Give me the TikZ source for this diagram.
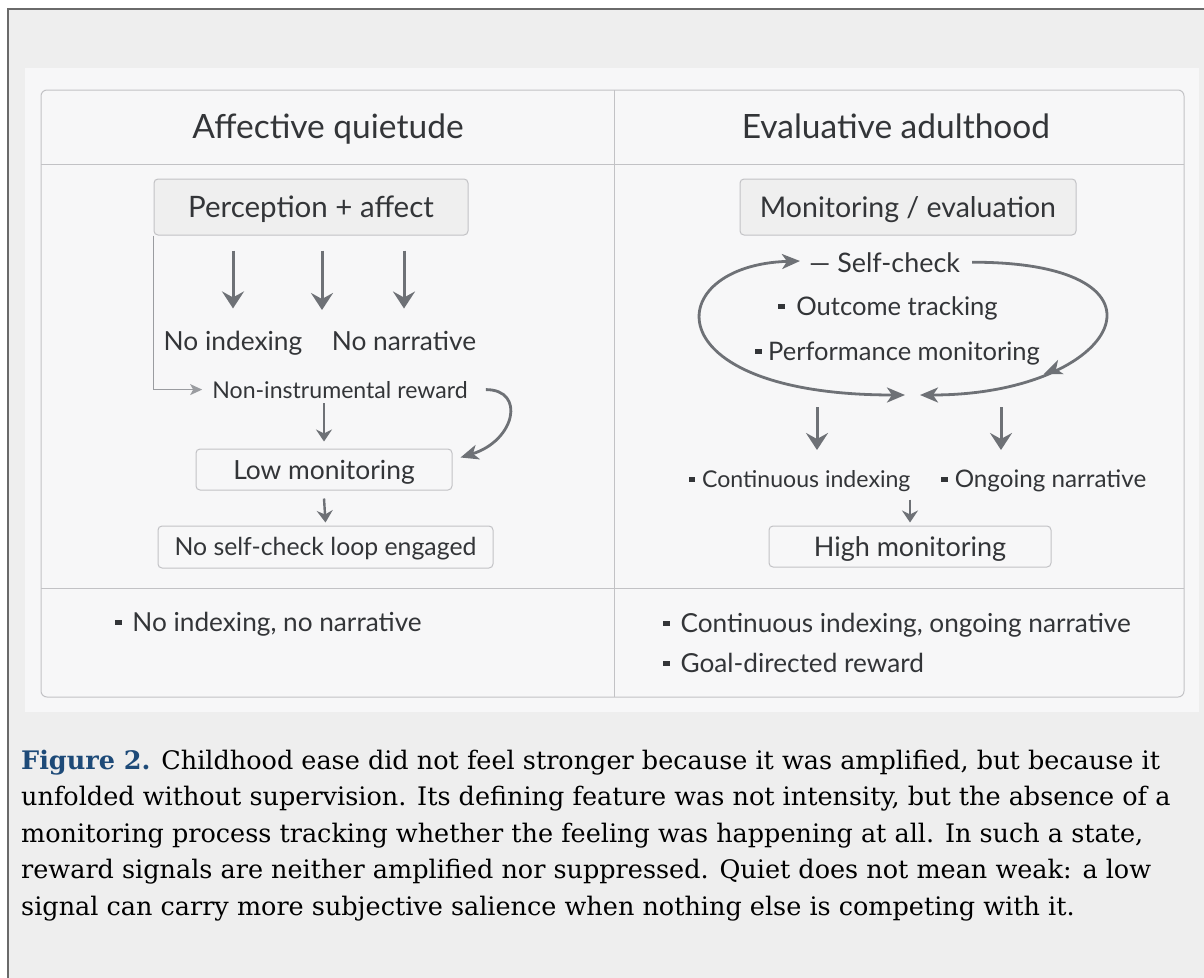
\documentclass[tikz,border=0pt]{standalone}
\usepackage{fontspec}
\setmainfont{DejaVu Serif}
\newfontfamily\diagfont{Lato}
\usetikzlibrary{arrows.meta,calc,decorations.markings}

\definecolor{framegray}{HTML}{6A6A6A}
\definecolor{outerbg}{HTML}{EEEEEE}
\definecolor{panelbg}{HTML}{F7F7F8}
\definecolor{rulegray}{HTML}{C2C2C5}
\definecolor{boxfill}{HTML}{EFEFEF}
\definecolor{inkgray}{HTML}{333538}
\definecolor{arrowgray}{HTML}{6E7176}
\definecolor{linkgray}{HTML}{9A9CA0}
\definecolor{figblue}{HTML}{1D4A78}

\newcommand{\fs}[1]{\fontsize{#1}{#1}\selectfont}
\newcommand{\sqbul}{\textcolor{inkgray}{\raisebox{0.22em}{\rule{0.26em}{0.2em}}}}

\tikzset{
  txt/.style={font=\diagfont, text=inkgray, inner sep=0pt, anchor=base},
  boxbase/.style={draw=rulegray, line width=1pt, rounded corners=4pt, inner sep=0pt,
    text=inkgray, text depth=0pt},
  headbox/.style={boxbase, fill=boxfill},
  plainbox/.style={boxbase, fill=panelbg},
  bigarrow/.style={draw=arrowgray, line width=3pt, -{Stealth[length=17pt,width=22pt,inset=6pt]}},
  midarrow/.style={draw=arrowgray, line width=2.4pt, -{Stealth[length=12pt,width=16pt,inset=4pt]}},
  thinarrow/.style={draw=linkgray, line width=1.2pt, -{Stealth[length=12pt,width=11pt,inset=3pt]}},
  loopline/.style={draw=arrowgray, line width=2.8pt},
  looptip/.style={-{Stealth[length=18pt,width=15pt,inset=5pt]}},
  captxt/.style={inner sep=0pt, anchor=base west, font=\fs{25.5}}
}

\begin{document}
\begin{tikzpicture}[x=1pt,y=-1pt]
\useasboundingbox (0,0) rectangle (1204,977);
\clip (0,0) rectangle (1204,977);

% page frame and panel
\fill[white] (0,0) rectangle (1204,977);
\draw[framegray, line width=2.5pt, fill=outerbg] (8,9) rectangle (1300,1100);
\fill[panelbg] (25,68) rectangle (1199,712);

% two-column table
\draw[rulegray, line width=1pt, rounded corners=6pt] (41,90) rectangle (1184,697);
\draw[rulegray, line width=1pt] (41,164) -- (1184,164);
\draw[rulegray, line width=1pt] (41,588) -- (1184,588);
\draw[rulegray, line width=1pt] (614,90) -- (614,697);

% column headings
\node[txt, font=\diagfont\fs{33.5}] (headL) at (328,138) {Affective quietude};
\node[txt, font=\diagfont\fs{33.5}] (headR) at (896,138) {Evaluative adulthood};

% ---------- left column ----------
\node[headbox, font=\diagfont\fs{29.5}, text height=21.2pt, minimum width=314pt, minimum height=56pt] (perc) at (311,207) {Perception + affect};
\node[txt, font=\diagfont\fs{26.3}] (noidx) at (233,350) {No indexing};
\node[txt, font=\diagfont\fs{26.3}] (nonarr) at (404,350) {No narrative};
\coordinate (midfoot) at (322,310);

\draw[bigarrow] ($(perc.south -| noidx)+(0,15)$) -- ($(noidx.north)+(0,-22)$);
\draw[bigarrow] ($(perc.south -| midfoot)+(0,15)$) -- (midfoot);
\draw[bigarrow] ($(perc.south -| nonarr)+(0,15)$) -- ($(nonarr.north)+(0,-22)$);

\node[txt, font=\diagfont\fs{23.1}] (nonin) at (340,398) {Non-instrumental reward};
\draw[thinarrow] (perc.south west) |- ([xshift=-10pt]nonin.west);

\node[plainbox, font=\diagfont\fs{26.4}, text height=19pt, minimum width=256pt, minimum height=41pt] (low) at (324,469.5) {Low monitoring};
\node[plainbox, font=\diagfont\fs{24.8}, text height=17.9pt, minimum width=335pt, minimum height=42pt] (noself) at (325.5,547) {No self-check loop engaged};

\draw[midarrow] ($(low.north |- nonin.south)+(0,5)$) -- ([yshift=7pt]low.north);
\draw[loopline, looptip] ([xshift=18pt]nonin.east) .. controls +(40,0) and +(55,-17) .. ([xshift=8pt,yshift=12pt]low.east);
\draw[midarrow] ([yshift=-8pt]low.south) -- ([yshift=3pt]noself.north);

\node[txt, anchor=base west, font=\diagfont\fs{26.2}] (sumL) at (115,631) {\sqbul\hspace{0.4em}No indexing, no narrative};

% ---------- right column ----------
\node[headbox, font=\diagfont\fs{28.5}, text height=20.5pt, minimum width=336pt, minimum height=56pt] (mon) at (908,207) {Monitoring / evaluation};

\node[txt, anchor=base west, font=\diagfont\fs{26.9}] (self) at (809,272) {—\hspace{0.25em}Self-check};
\node[txt, anchor=base west, font=\diagfont\fs{25.6}] (outc) at (778,315) {\sqbul\hspace{0.45em}Outcome tracking};
\node[txt, anchor=base west, font=\diagfont\fs{25.5}] (perf) at (755,360) {\sqbul\hspace{0.25em}Performance monitoring};

\coordinate (loopL) at (800,261);
\coordinate (loopB) at (905,395);
\coordinate (loopR) at (920,395);
\draw[loopline, {Stealth[length=18pt,width=15pt,inset=5pt]}-{Stealth[length=18pt,width=15pt,inset=5pt]}]
  (loopB) .. controls (650,395) and (660,265) .. (loopL);
\draw[loopline, looptip,
  postaction={decorate, decoration={markings,
    mark=at position 0.66 with {\arrow{Stealth[length=18pt,width=15pt,inset=5pt]}}}}]
  ([xshift=12pt]self.east) .. controls (1190,262) and (1120,395) .. (loopR);

\node[txt, anchor=base west, font=\diagfont\fs{23.1}] (contidx) at (689,487) {\sqbul\hspace{0.3em}Continuous indexing};
\node[txt, anchor=base west, font=\diagfont\fs{24.2}] (ongo) at (941,487) {\sqbul\hspace{0.3em}Ongoing narrative};

\coordinate (armL) at (817,450);
\coordinate (armR) at (1001,450);
\draw[bigarrow] (armL |- loopB) ++(0,12) -- (armL);
\draw[bigarrow] (armR |- loopB) ++(0,12) -- (armR);

\node[plainbox, font=\diagfont\fs{27}, text height=19.4pt, minimum width=282pt, minimum height=41pt] (high) at (910,546.5) {High monitoring};
\draw[midarrow] ([yshift=26pt]high.north) -- ([yshift=3pt]high.north);

\node[txt, anchor=base west, font=\diagfont\fs{26.2}] (sumR1) at (663,632) {\sqbul\hspace{0.4em}Continuous indexing, ongoing narrative};
\node[txt, anchor=base west, font=\diagfont\fs{26.2}] (sumR2) at (663,672) {\sqbul\hspace{0.4em}Goal-directed reward};

% ---------- caption ----------
\node[captxt] (cap1) at (21,769) {\textcolor{figblue}{\textbf{Figure 2.}} Childhood ease did not feel stronger because it was amplified, but because it};
\node[captxt] (cap2) at (21,805.5) {unfolded without supervision. Its defining feature was not intensity, but the absence of a};
\node[captxt] (cap3) at (21,842) {monitoring process tracking whether the feeling was happening at all. In such a state,};
\node[captxt] (cap4) at (21,878.5) {reward signals are neither amplified nor suppressed. Quiet does not mean weak: a low};
\node[captxt] (cap5) at (21,915) {signal can carry more subjective salience when nothing else is competing with it.};
\end{tikzpicture}
\end{document}
